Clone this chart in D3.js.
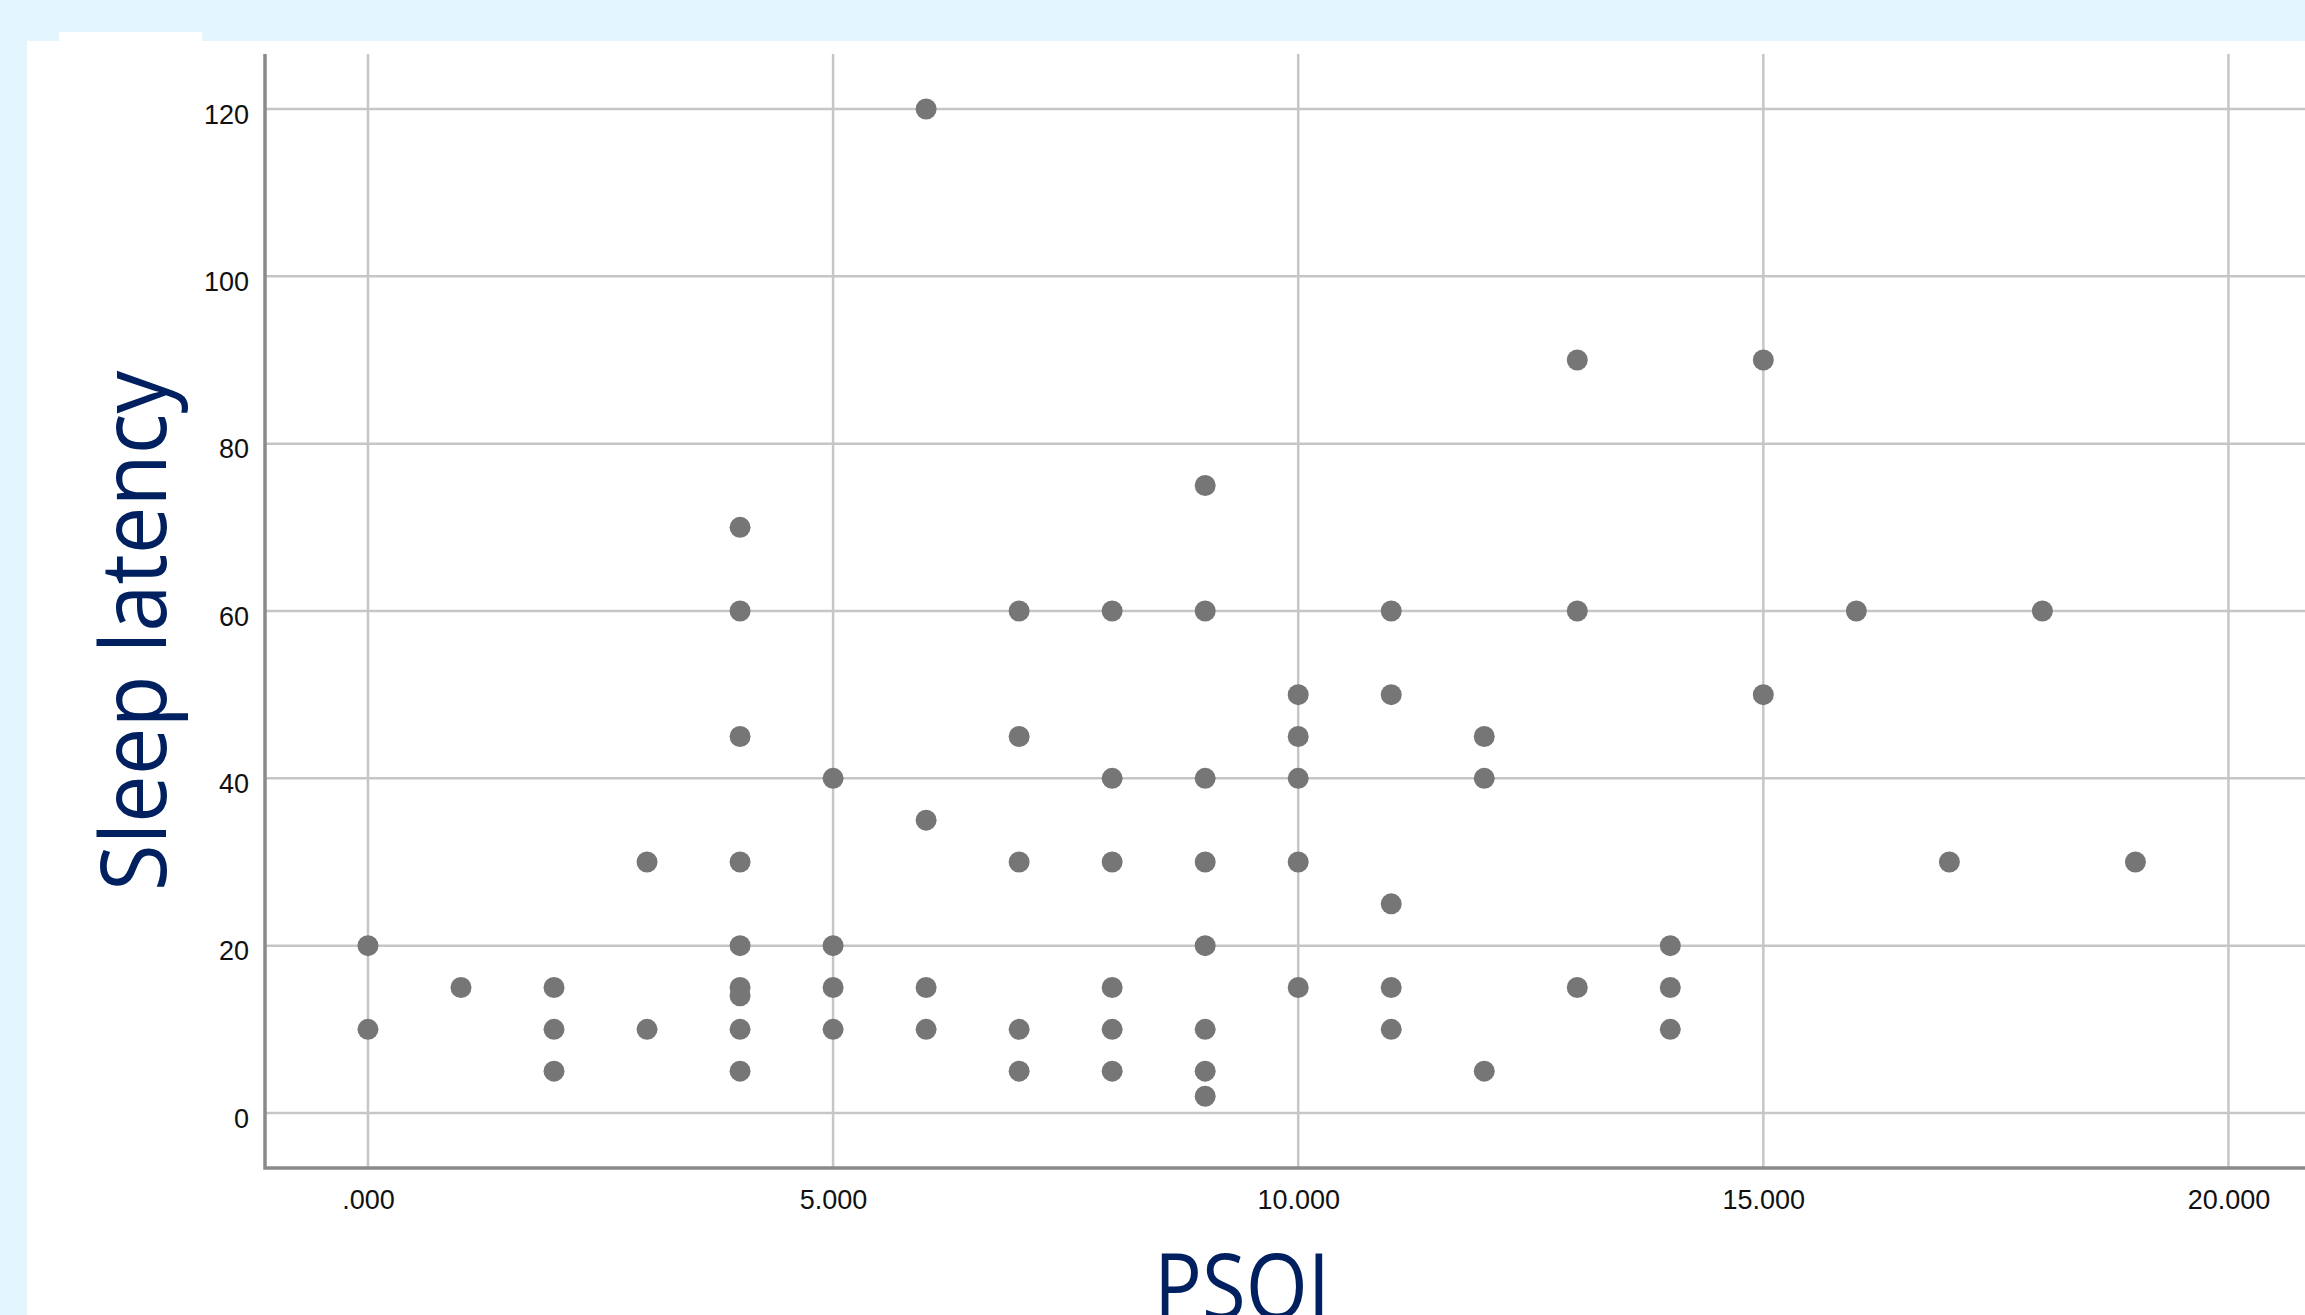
<!DOCTYPE html>
<html>
<head>
<meta charset="utf-8">
<script src="https://cdn.jsdelivr.net/npm/d3@7"></script>
<style>
  html, body { margin: 0; padding: 0; background: #e3f6fd; }
  svg { display: block; }
</style>
</head>
<body>
<svg width="2305" height="1315"></svg>
<script>
// PSQI score (x) and sleep latency in minutes (y), one entry per point
const psqi = [
  0, 0,
  1,
  2, 2, 2,
  3, 3,
  4, 4, 4, 4, 4, 4, 4, 4, 4,
  5, 5, 5, 5,
  6, 6, 6, 6,
  7, 7, 7, 7, 7,
  8, 8, 8, 8, 8, 8,
  9, 9, 9, 9, 9, 9, 9, 9,
  10, 10, 10, 10, 10,
  11, 11, 11, 11, 11,
  12, 12, 12,
  13, 13, 13,
  14, 14, 14,
  15, 15,
  16,
  17,
  18,
  19,
];
const latency = [
  20, 10,
  15,
  15, 10, 5,
  30, 10,
  70, 60, 45, 30, 20, 15, 14, 10, 5,
  40, 20, 15, 10,
  120, 35, 15, 10,
  60, 45, 30, 10, 5,
  60, 40, 30, 15, 10, 5,
  75, 60, 40, 30, 20, 10, 5, 2,
  50, 45, 40, 30, 15,
  60, 50, 25, 15, 10,
  45, 40, 5,
  90, 60, 15,
  20, 15, 10,
  90, 50,
  60,
  30,
  60,
  30,
];
const xTicks = [0, 5, 10, 15, 20];
const yTicks = [0, 20, 40, 60, 80, 100, 120];
const xTitle = 'PSQI';
const yTitle = 'Sleep latency';

const W = 2305;
const H = 1315;
const m = { left: 265, top: 54, bottom: 1168, right: W };

const svg = d3.select('svg');

// page panel
svg.append('rect').attr('x', 27).attr('y', 41).attr('width', W - 27).attr('height', H - 41).attr('fill', '#fff');
svg.append('rect').attr('x', 59).attr('y', 32).attr('width', 143).attr('height', 10).attr('fill', '#fff');

const xScale = d3.scaleLinear().domain([-1.107, 20.823]).range([m.left, m.right]);
const yScale = d3.scaleLinear().domain([-6.574, 126.57]).range([m.bottom, m.top]);

const xFmt = (d) => d3.format('.3f')(d).replace(/^0\./, '.');

// grid
const grid = svg.append('g').attr('stroke', '#c6c6c6').attr('stroke-width', 2.5);
grid.selectAll('.gy')
  .data(yTicks)
  .join('line')
  .attr('x1', m.left).attr('x2', m.right)
  .attr('y1', (d) => yScale(d)).attr('y2', (d) => yScale(d));
grid.selectAll('.gx')
  .data(xTicks)
  .join('line')
  .attr('y1', m.top).attr('y2', m.bottom)
  .attr('x1', (d) => xScale(d)).attr('x2', (d) => xScale(d));

// axes
const xAxis = d3.axisBottom(xScale).tickValues(xTicks).tickFormat(xFmt).tickSize(0).tickPadding(22);
const yAxis = d3.axisLeft(yScale).tickValues(yTicks).tickSize(0).tickPadding(16);

svg.append('g')
  .attr('transform', `translate(0, ${m.bottom})`)
  .call(xAxis)
  .call((g) => g.select('.domain').remove())
  .call((g) => g.selectAll('.tick text')
    .attr('font-family', '"Liberation Sans", Arial, sans-serif')
    .attr('font-size', 27)
    .attr('fill', '#111'));

svg.append('g')
  .attr('transform', `translate(${m.left}, 0)`)
  .call(yAxis)
  .call((g) => g.select('.domain').remove())
  .call((g) => g.selectAll('.tick text')
    .attr('font-family', '"Liberation Sans", Arial, sans-serif')
    .attr('font-size', 27)
    .attr('dy', '0.52em')
    .attr('fill', '#111'));

svg.append('path')
  .attr('d', `M${m.left},${m.top}V${m.bottom}H${m.right}`)
  .attr('fill', 'none')
  .attr('stroke', '#8a8a8a')
  .attr('stroke-width', 3.5);

// points
svg.append('g')
  .selectAll('circle')
  .data(psqi.map((d, i) => [d, latency[i]]))
  .join('circle')
  .attr('cx', (d) => xScale(d[0]))
  .attr('cy', (d) => yScale(d[1]))
  .attr('r', 10.5)
  .attr('fill', '#767676');

// titles
svg.append('text')
  .attr('x', 1154)
  .attr('y', 1319)
  .attr('font-family', '"Open Sans", sans-serif')
  .attr('font-size', 92)
  .attr('fill', '#002060')
  .attr('textLength', 176)
  .attr('lengthAdjust', 'spacingAndGlyphs')
  .text(xTitle);

svg.append('text')
  .attr('transform', 'translate(166, 891) rotate(-90)')
  .attr('font-family', '"Open Sans", sans-serif')
  .attr('font-size', 92)
  .attr('fill', '#002060')
  .attr('textLength', 520)
  .attr('lengthAdjust', 'spacingAndGlyphs')
  .text(yTitle);
</script>
</body>
</html>
